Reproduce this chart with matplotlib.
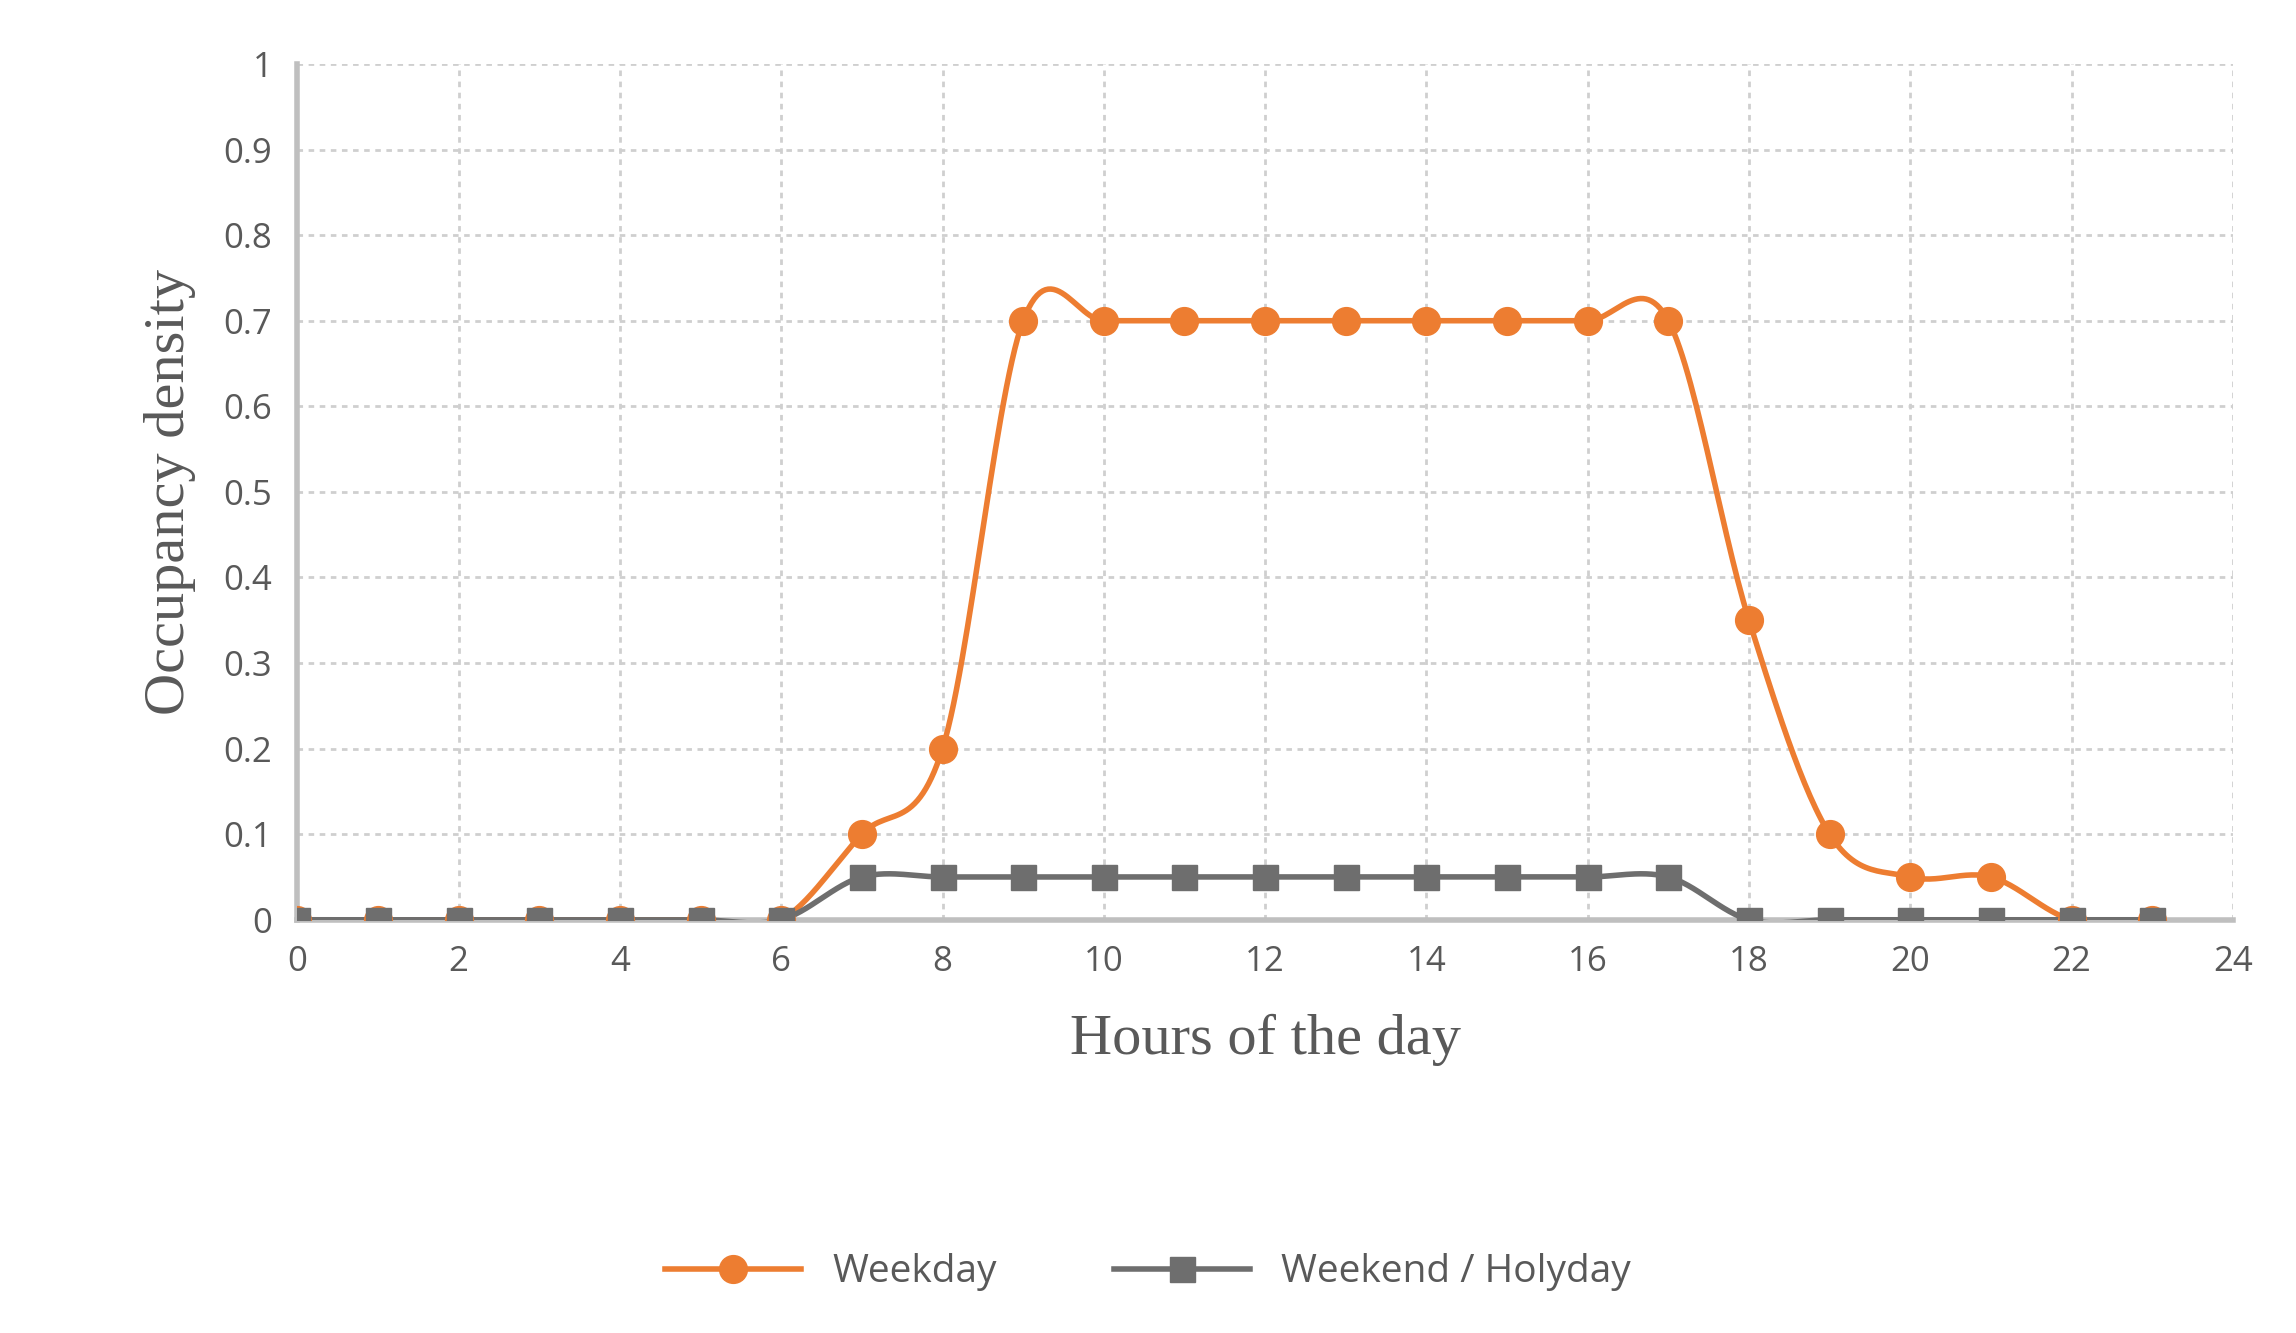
import numpy as np
import matplotlib
matplotlib.use("Agg")
import matplotlib.pyplot as plt

hours = list(range(24))
weekday = [0,0,0,0,0,0,0,0.1,0.2,0.7,0.7,0.7,0.7,0.7,0.7,0.7,0.7,0.7,0.35,0.1,0.05,0.05,0,0]
weekend = [0,0,0,0,0,0,0,0.05,0.05,0.05,0.05,0.05,0.05,0.05,0.05,0.05,0.05,0.05,0,0,0,0,0,0]

def smooth(x, y, n=30):
    x = np.asarray(x, float); y = np.asarray(y, float)
    xs, ys = [], []
    for i in range(len(x) - 1):
        p0 = (x[max(i-1,0)], y[max(i-1,0)]); p1 = (x[i], y[i])
        p2 = (x[i+1], y[i+1]); p3 = (x[min(i+2,len(x)-1)], y[min(i+2,len(x)-1)])
        c1 = (p1[0] + (p2[0]-p0[0])/6, p1[1] + (p2[1]-p0[1])/6)
        c2 = (p2[0] - (p3[0]-p1[0])/6, p2[1] - (p3[1]-p1[1])/6)
        t = np.linspace(0, 1, n)
        for k in range(2):
            pts = [p1[k], c1[k], c2[k], p2[k]]
            v = (1-t)**3*pts[0] + 3*(1-t)**2*t*pts[1] + 3*(1-t)*t**2*pts[2] + t**3*pts[3]
            (xs if k == 0 else ys).append(v)
    return np.concatenate(xs), np.concatenate(ys)

fig = plt.figure(figsize=(22.96, 13.33), dpi=100)
ax = fig.add_axes([0.1295, 0.31, 0.843, 0.642])

orange = "#ED7D31"; grey = "#6E6E6E"
sx, sy = smooth(hours, weekday)
ax.plot(sx, sy, color=orange, lw=4, zorder=3)
ax.plot(hours, weekday, 'o', color=orange, ms=20, zorder=4)
sx, sy = smooth(hours, weekend)
ax.plot(sx, sy, color=grey, lw=4, zorder=3)
ax.plot(hours, weekend, 's', color=grey, ms=18, zorder=4)
ax.plot([], [], color=orange, lw=4, marker='o', ms=20, label="Weekday")
ax.plot([], [], color=grey, lw=4, marker='s', ms=18, label="Weekend / Holyday")

ax.set_xlim(0, 24); ax.set_ylim(0, 1)
ax.set_xticks(range(0, 25, 2)); ax.set_yticks(np.arange(0, 1.01, 0.1))
ax.set_yticklabels(["0"] + [f"{v:.1f}" for v in np.arange(0.1, 0.95, 0.1)] + ["1"])
ax.grid(True, color="#CFCFCF", ls=(0, (2, 2)), lw=2)
ax.set_axisbelow(True)
for s in ["top", "right"]:
    ax.spines[s].set_visible(False)
for s in ["left", "bottom"]:
    ax.spines[s].set_color("#BFBFBF"); ax.spines[s].set_linewidth(4)
ax.tick_params(length=0, labelsize=25, colors="#595959", pad=18)
for l in ax.get_xticklabels() + ax.get_yticklabels():
    l.set_family("Open Sans")
ax.set_xlabel("Hours of the day", family="Liberation Serif", fontsize=42, color="#595959", labelpad=25)
ax.set_ylabel("Occupancy density", family="Liberation Serif", fontsize=42, color="#595959", labelpad=20)
fig.legend(loc="lower center", bbox_to_anchor=(0.5, 0.005), ncol=2, frameon=False,
           prop={"family": "Open Sans", "size": 28}, labelcolor="#595959",
           handlelength=3.5, columnspacing=3)
fig.savefig("out.png", dpi=100)
